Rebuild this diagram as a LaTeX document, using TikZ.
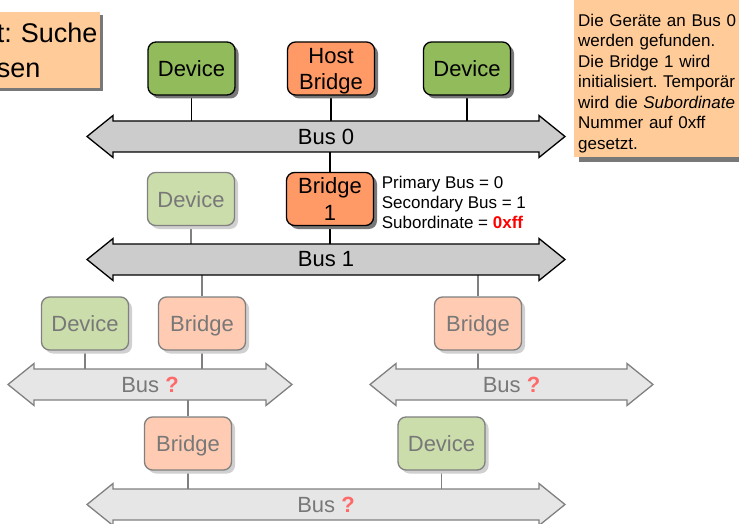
\documentclass[tikz,border=0pt]{standalone}
\usepackage{fontspec}
\setmainfont{Liberation Sans}
\usetikzlibrary{positioning,backgrounds,shadows}

\definecolor{devgreen}{RGB}{146,187,92}
\definecolor{bridgeorange}{RGB}{255,153,102}
\definecolor{fadegreen}{RGB}{204,221,172}
\definecolor{fadeorange}{RGB}{255,204,179}
\definecolor{noteorange}{RGB}{255,204,153}
\definecolor{busgray}{RGB}{204,204,204}
\definecolor{fadebus}{RGB}{230,230,230}
\definecolor{fadeline}{RGB}{128,128,128}
\definecolor{fadetext}{RGB}{120,120,120}
\definecolor{shadowdark}{RGB}{120,120,120}
\definecolor{shadowlight}{RGB}{208,208,208}
\definecolor{qred}{RGB}{255,105,105}

% bus arrow: style, name, left tip, right tip, y, label
\newcommand\drawbus[6]{%
  \draw[#1] (#3,#5) -- (#3+26,#5-21) -- (#3+26,#5-15.5) -- (#4-26,#5-15.5)
    -- (#4-26,#5-21) -- (#4,#5) -- (#4-26,#5+21) -- (#4-26,#5+15.5)
    -- (#3+26,#5+15.5) -- (#3+26,#5+21) -- cycle;
  \node[#1 label] (#2) at ({(#3+#4)/2},#5) {#6};}
\newcommand\twolines[2]{\begin{tabular}{@{}c@{}}#1\\#2\end{tabular}}

\begin{document}
\frenchspacing
\begin{tikzpicture}[x=1pt,y=-1pt,
  box/.style={rounded corners=8pt,minimum width=87pt,minimum height=53pt,line width=1.3pt,
    inner sep=1pt,text height=16pt,text depth=0pt,font=\fontsize{22}{26.5}\selectfont},
  dev/.style={box,draw=black,fill=devgreen,
    drop shadow={shadow xshift=3.5pt,shadow yshift=-3.5pt,fill=shadowdark,opacity=1}},
  bridge/.style={box,draw=black,fill=bridgeorange,
    drop shadow={shadow xshift=3.5pt,shadow yshift=-3.5pt,fill=shadowdark,opacity=1}},
  fdev/.style={box,draw=fadeline,fill=fadegreen,text=fadetext,
    drop shadow={shadow xshift=3.5pt,shadow yshift=-3.5pt,fill=shadowlight,opacity=1}},
  fbridge/.style={box,draw=fadeline,fill=fadeorange,text=fadetext,
    drop shadow={shadow xshift=3.5pt,shadow yshift=-3.5pt,fill=shadowlight,opacity=1}},
  bus/.style={draw=black,fill=busgray,line width=1.3pt},
  bus label/.style={inner sep=0pt,font=\fontsize{22}{26}\selectfont},
  fbus/.style={draw=fadeline,fill=fadebus,line width=1.3pt},
  fbus label/.style={inner sep=0pt,text=fadetext,font=\fontsize{22}{26}\selectfont},
  link/.style={line width=1.3pt},
  flink/.style={line width=1.3pt,draw=fadeline},
  regs/.style={inner sep=0pt,align=left,font=\fontsize{17}{20}\selectfont}]

  \useasboundingbox (0,0) rectangle (739,524);

  \node[fill=noteorange,minimum height=76pt,text width=103pt,inner sep=0pt,align=left,
    anchor=east,font=\fontsize{27}{35}\selectfont,
    drop shadow={shadow xshift=3pt,shadow yshift=-3pt,fill=shadowdark,opacity=1}]
    (title) at (100,50) {t: Suche\\sen};

  \node[dev] (dev0l) at (191.5,68.5) {Device};
  \node[bridge] (host) at (331,68.5) {\twolines{Host}{Bridge}};
  \node[dev] (dev0r) at (467,68.5) {Device};

  \node[fdev] (dev1) at (191,199) {Device};
  \node[bridge] (br1) at (330,199) {\twolines{Bridge}{1}};
  \node[regs,anchor=west,right=7.5pt of br1,yshift=-3pt] (br1regs)
    {Primary Bus = 0\\Secondary Bus = 1\\Subordinate = \textcolor{red}{\textbf{0xff}}};

  \node[fdev] (dev2) at (85,323.5) {Device};
  \node[fbridge] (br2l) at (202,323.5) {Bridge};
  \node[fbridge] (br2r) at (478,323.5) {Bridge};

  \node[fbridge] (br3) at (188,443.5) {Bridge};
  \node[fdev] (dev3) at (441.5,443.5) {Device};

  \drawbus{bus}{bus0}{87}{565}{136.5}{Bus 0}
  \drawbus{bus}{bus1}{87}{565}{259.5}{Bus 1}
  \drawbus{fbus}{busl}{8}{292}{384.5}{Bus \textcolor{qred}{\textbf{?}}}
  \drawbus{fbus}{busr}{370}{653}{384.5}{Bus \textcolor{qred}{\textbf{?}}}
  \drawbus{fbus}{busb}{87}{565}{504.5}{Bus \textcolor{qred}{\textbf{?}}}

  \node[fill=noteorange,anchor=south west,text width=170pt,inner xsep=4pt,inner ysep=4pt,
    align=left,font=\fontsize{17}{20.5}\selectfont,
    drop shadow={shadow xshift=5pt,shadow yshift=-5pt,fill=shadowdark,opacity=1}]
    (info) at (574,157) {\rule{0pt}{50pt}Die Geräte an Bus 0\\werden gefunden.\\Die Bridge 1 wird\\
    initialisiert. Temporär\\wird die \textit{Subordinate}\\Nummer auf 0xff\\gesetzt.};

  \begin{scope}[on background layer]
    \draw[link] (dev0l) -- (dev0l |- bus0);
    \draw[link] (host) -- (host |- bus0);
    \draw[link] (dev0r) -- (dev0r |- bus0);
    \draw[link] (br1) -- (br1 |- bus0);
    \draw[link] (br1) -- (br1 |- bus1);
    \draw[flink] (dev1) -- (dev1 |- bus1);
    \draw[flink] (br2l) -- (br2l |- bus1);
    \draw[flink] (br2r) -- (br2r |- bus1);
    \draw[flink] (dev2) -- (dev2 |- busl);
    \draw[flink] (br2l) -- (br2l |- busl);
    \draw[flink] (br2r) -- (br2r |- busr);
    \draw[flink] (br3) -- (br3 |- busl);
    \draw[flink] (br3) -- (br3 |- busb);
    \draw[flink] (dev3) -- (dev3 |- busb);
  \end{scope}
\end{tikzpicture}
\end{document}
